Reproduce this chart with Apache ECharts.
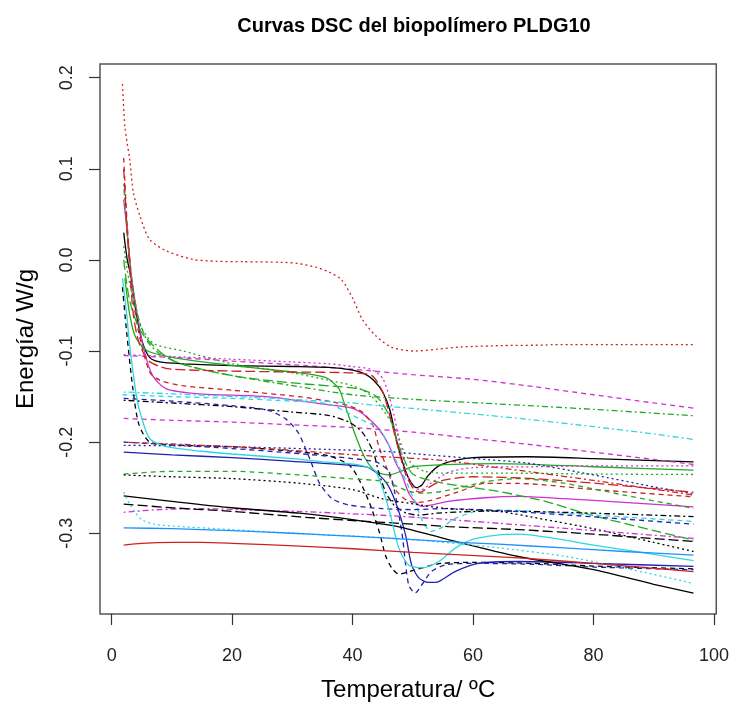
<!DOCTYPE html>
<html>
<head>
<meta charset="utf-8">
<script src="https://cdn.jsdelivr.net/npm/echarts@6/dist/echarts.min.js"></script>
<style>
html,body{margin:0;padding:0;background:#fff;}
#chart{width:732px;height:707px;}
</style>
</head>
<body>
<div id="chart"></div>
<script>
// ---------- DATA ----------
const chartTitle = "Curvas DSC del biopolímero PLDG10";
const xTitle = "Temperatura/ ºC";
const yTitle = "Energía/ W/g";
const xTicks = [0, 20, 40, 60, 80, 100];
const yTicks = [-0.3, -0.2, -0.1, 0.0, 0.1, 0.2];

const s01 = [[1.8,0.193],[2.2,0.146],[3.0,0.11],[3.6,0.074],[4.7,0.048],[6.3,0.0225],[9.1,0.0098],[13.4,0.0007],[17.4,-0.0015],[22,-0.002],[28.3,-0.0026],[31,-0.004],[33.9,-0.008],[36,-0.013],[38.2,-0.022],[40,-0.042],[41.6,-0.065],[43.8,-0.083],[46.5,-0.096],[50.4,-0.1],[54,-0.098],[58,-0.0956],[65,-0.094],[72,-0.0935],[73,-0.093],[85,-0.093],[96.6,-0.093]];
const s02 = [[2,-0.105],[10,-0.107],[20,-0.111],[30,-0.115],[40,-0.12],[50,-0.126],[60,-0.131],[70,-0.139],[80,-0.148],[90,-0.157],[96.6,-0.1626]];
const s03 = [[2,0.03],[2.6,0.0],[3.3,-0.021],[4,-0.055],[5,-0.088],[6.3,-0.107],[8,-0.112],[12,-0.114],[20,-0.116],[30,-0.117],[36,-0.118],[40,-0.121],[42,-0.125],[43.5,-0.132],[45,-0.145],[46.2,-0.165],[47.2,-0.195],[48.3,-0.222],[49.5,-0.242],[50.6,-0.25],[51.5,-0.247],[52.5,-0.237],[54.3,-0.226],[57,-0.22],[60,-0.217],[69,-0.216],[80,-0.218],[96.6,-0.2216]];
const s04 = [[2,0.066],[2.6,0.03],[3.3,-0.018],[4,-0.05],[5.2,-0.094],[6.8,-0.127],[9.1,-0.1415],[14.6,-0.147],[25.6,-0.15],[36,-0.159],[40,-0.163],[42.1,-0.171],[44.3,-0.185],[46,-0.203],[47.1,-0.2215],[48.2,-0.236],[49.5,-0.258],[51.5,-0.2705],[53,-0.269],[55.9,-0.265],[62,-0.261],[67.5,-0.2596],[75,-0.262],[85,-0.266],[96.6,-0.271]];
const s05 = [[2,0.112],[2.5,0.048],[3,0.0],[3.5,-0.04],[4.5,-0.08],[6.3,-0.123],[8,-0.132],[11.7,-0.138],[20,-0.143],[31,-0.15],[36,-0.155],[39.4,-0.16],[41.6,-0.167],[43.4,-0.182],[44.3,-0.2035],[45.5,-0.2253],[47.1,-0.252],[49.3,-0.265],[51,-0.266],[53,-0.264],[57.6,-0.2544],[62,-0.2453],[67.5,-0.2453],[80,-0.252],[96.6,-0.26]];
const s06 = [[2,0.083],[2.5,0.035],[3,0.0],[3.5,-0.03],[4.5,-0.065],[6,-0.09],[8,-0.103],[12,-0.115],[20,-0.127],[30,-0.138],[40,-0.148],[50,-0.153],[64,-0.158],[80,-0.164],[96.6,-0.171]];
const s07 = [[2,0.015],[2.6,-0.012],[3.3,-0.035],[4,-0.055],[5,-0.075],[7,-0.092],[11.9,-0.1],[20,-0.114],[30,-0.124],[36,-0.132],[40,-0.138],[42.7,-0.147],[44.5,-0.16],[47.1,-0.185],[48.5,-0.21],[50,-0.225],[52,-0.232],[55,-0.234],[65,-0.234],[80,-0.235],[96.6,-0.2355]];
const s08 = [[2.2,-0.02],[3,-0.06],[4,-0.085],[6,-0.1],[11.8,-0.109],[22.9,-0.118],[30,-0.123],[35.5,-0.129],[37.7,-0.141],[38.5,-0.155],[40.5,-0.193],[42.1,-0.218],[43.8,-0.232],[46,-0.236],[48,-0.232],[50,-0.227],[55.4,-0.2246],[64.2,-0.2235],[80,-0.227],[96.6,-0.2308]];
const s09 = [[2,0.0],[3,-0.045],[5,-0.08],[10,-0.11],[20,-0.127],[30,-0.135],[41,-0.1415],[44,-0.15],[46,-0.17],[48,-0.21],[50,-0.235],[55,-0.245],[64.2,-0.254],[72,-0.265],[79.6,-0.28],[90,-0.297],[96.6,-0.3074]];
const s10 = [[1.8,-0.148],[10,-0.15],[20,-0.152],[30,-0.155],[36,-0.158],[41,-0.174],[44.3,-0.185],[46,-0.203],[47.3,-0.2216],[48.7,-0.24],[50,-0.26],[51.5,-0.285],[53,-0.298],[55,-0.293],[57,-0.2836],[62,-0.2745],[67.5,-0.275],[80,-0.28],[96.6,-0.287]];
const s11 = [[2,-0.145],[10,-0.147],[20,-0.15],[30,-0.153],[40,-0.157],[44.3,-0.16],[50,-0.163],[60,-0.169],[69.2,-0.175],[80,-0.183],[90,-0.191],[96.6,-0.197]];
const s12 = [[2,-0.174],[10,-0.176],[20,-0.178],[30,-0.181],[40,-0.184],[50,-0.189],[60,-0.196],[70,-0.203],[80,-0.211],[90,-0.219],[96.6,-0.2245]];
const s13 = [[2,-0.154],[10,-0.157],[20,-0.161],[30,-0.167],[36,-0.1707],[39.4,-0.178],[41.6,-0.189],[43.4,-0.21],[44.3,-0.232],[45.5,-0.255],[47,-0.27],[49,-0.278],[51,-0.28],[54,-0.278],[60,-0.276],[64.2,-0.2756],[80,-0.278],[96.6,-0.2817]];
const s14 = [[1.8,-0.03],[2.5,-0.08],[3.5,-0.14],[4.5,-0.18],[6.3,-0.2],[10,-0.203],[20,-0.205],[30,-0.21],[36,-0.215],[39.4,-0.225],[41,-0.24],[43,-0.27],[44.5,-0.3],[45.5,-0.325],[46.5,-0.338],[47.7,-0.345],[49,-0.343],[50.4,-0.34],[54.8,-0.333],[60,-0.332],[70,-0.333],[80,-0.336],[96.6,-0.339]];
const s15 = [[2,-0.152],[10,-0.155],[20,-0.16],[26,-0.165],[29,-0.175],[31,-0.19],[33,-0.22],[34.5,-0.245],[36.6,-0.262],[39.4,-0.269],[45,-0.273],[50,-0.274],[55,-0.273],[64.2,-0.275],[80,-0.282],[96.6,-0.29]];
const s16 = [[2,-0.211],[10,-0.214],[20,-0.217],[30,-0.221],[41,-0.226],[43,-0.229],[45.5,-0.2435],[47.1,-0.265],[48.8,-0.302],[49.8,-0.3347],[51,-0.349],[52.6,-0.354],[54.3,-0.353],[57,-0.342],[60.9,-0.333],[67.5,-0.331],[80,-0.333],[96.6,-0.3364]];
const s17 = [[2,-0.2],[10,-0.203],[20,-0.207],[30,-0.212],[40,-0.218],[44,-0.222],[46,-0.232],[47,-0.255],[48.2,-0.3],[49.3,-0.3565],[50.4,-0.3656],[51.5,-0.3565],[53.1,-0.342],[55.4,-0.3347],[60,-0.333],[70,-0.334],[80,-0.337],[96.6,-0.34]];
const s18 = [[2,-0.2035],[10,-0.204],[20,-0.205],[36,-0.208],[45,-0.21],[52.6,-0.214],[60,-0.218],[69,-0.223],[80,-0.236],[90,-0.249],[96.6,-0.2565]];
const s19 = [[2,-0.2],[10,-0.202],[20,-0.205],[30,-0.209],[36,-0.212],[45,-0.216],[55,-0.22],[64.2,-0.228],[70,-0.233],[80,-0.242],[96.6,-0.258]];
const s20 = [[2,-0.235],[10,-0.232],[20,-0.232],[31,-0.236],[39.4,-0.24],[45.5,-0.2435],[49.3,-0.254],[52,-0.256],[56,-0.2527],[62,-0.2435],[67.5,-0.24],[75,-0.245],[85,-0.258],[96.6,-0.2727]];
const s21 = [[2,-0.236],[10,-0.238],[20,-0.24],[31,-0.245],[40,-0.252],[44.8,-0.262],[49.3,-0.267],[55.9,-0.273],[64.2,-0.276],[72,-0.285],[80,-0.295],[90,-0.31],[96.6,-0.32]];
const s22 = [[2,-0.277],[8,-0.274],[15,-0.273],[25,-0.275],[31,-0.276],[44.3,-0.28],[53,-0.2836],[64.2,-0.289],[80,-0.297],[96.6,-0.3055]];
const s23 = [[2,-0.268],[10,-0.272],[20,-0.276],[31.2,-0.282],[40,-0.286],[50,-0.29],[55.9,-0.2927],[67.5,-0.296],[80,-0.301],[96.6,-0.309]];
const s24 = [[2,-0.259],[10,-0.265],[20,-0.272],[31.2,-0.278],[40,-0.285],[47.7,-0.293],[55.9,-0.307],[67.5,-0.3255],[80,-0.34],[90,-0.356],[96.6,-0.3657]];
const s25 = [[1.8,-0.02],[2.5,-0.06],[3,-0.094],[4.1,-0.149],[4.7,-0.167],[6.3,-0.196],[9.1,-0.205],[15,-0.21],[20,-0.213],[30,-0.218],[36,-0.222],[41,-0.225],[43.8,-0.232],[46,-0.273],[47.7,-0.3166],[49.3,-0.3347],[51.5,-0.338],[54.3,-0.331],[57,-0.3166],[59.8,-0.307],[64,-0.302],[67.5,-0.301],[80,-0.313],[96.6,-0.33]];
const s26 = [[2,-0.255],[3,-0.268],[4,-0.278],[5,-0.285],[7,-0.29],[10,-0.292],[20,-0.296],[30,-0.3],[40,-0.303],[50,-0.307],[64.2,-0.316],[75,-0.325],[85,-0.338],[96.6,-0.355]];
const s27 = [[2,-0.294],[10,-0.295],[20,-0.297],[30,-0.3],[36,-0.302],[45,-0.305],[55,-0.309],[64.2,-0.312],[75,-0.316],[85,-0.32],[96.6,-0.324]];
const s28 = [[2,-0.313],[5,-0.311],[10,-0.31],[15,-0.31],[20,-0.311],[31.2,-0.314],[40,-0.317],[50,-0.321],[67.5,-0.327],[80,-0.333],[96.6,-0.342]];
const s29 = [[2,0.1],[2.5,0.04],[3,-0.01],[3.6,-0.06],[4.5,-0.09],[6,-0.11],[8,-0.117],[10,-0.12],[20,-0.122],[30,-0.123],[40,-0.124],[43.2,-0.127],[45,-0.145],[46.3,-0.174],[47.5,-0.205],[48.8,-0.235],[50.2,-0.252],[51.3,-0.255],[52.5,-0.25],[55,-0.242],[60,-0.238],[70,-0.24],[80,-0.245],[96.6,-0.255]];
const s30 = [[2,-0.104],[10,-0.106],[20,-0.109],[30,-0.112],[36,-0.114],[40,-0.117],[43,-0.12],[45,-0.13],[46.5,-0.16],[47.8,-0.2],[49,-0.235],[50.3,-0.25],[51.5,-0.252],[53,-0.245],[56,-0.233],[60,-0.228],[70,-0.227],[80,-0.226],[96.6,-0.226]];

// ---------- STYLES ----------
const C = {black:'#000000', red:'#cc2222', green:'#22aa22', navy:'#2020b0', blue:'#1e90ff', cyan:'#2fd6e0', magenta:'#d030d0'};
const D = {solid:'solid', dashed:[5,4], dotted:[2,3], dotdash:[2,3,6,3], longdash:[10,4]};
const seriesDefs = [
  [s01,'red','dotted'],[s02,'magenta','dashed'],[s03,'black','solid'],[s04,'magenta','solid'],
  [s05,'red','dashed'],[s06,'green','dotdash'],[s07,'green','dotted'],[s08,'green','solid'],
  [s09,'green','longdash'],[s10,'cyan','dashed'],[s11,'cyan','dotdash'],[s12,'magenta','dashed'],
  [s13,'black','dotdash'],[s14,'black','dashed'],[s15,'navy','dashed'],[s16,'navy','solid'],
  [s17,'navy','dashed'],[s18,'navy','dotted'],[s19,'red','dotdash'],[s20,'green','dashed'],
  [s21,'black','dotted'],[s22,'magenta','dotdash'],[s23,'black','longdash'],[s24,'black','solid'],
  [s25,'cyan','solid'],[s26,'cyan','dotted'],[s27,'blue','solid'],[s28,'red','solid'],
  [s29,'red','longdash'],[s30,'magenta','dotted']
];

const chart = echarts.init(document.getElementById('chart'), null, {renderer:'canvas'});
const font = "'Liberation Sans', Arial, sans-serif";
chart.setOption({
  animation: false,
  backgroundColor: '#ffffff',
  title: {
    text: chartTitle, left: 409, textAlign: 'center', top: 11,
    textStyle: {fontFamily: font, fontWeight: 'bold', fontSize: 20, color: '#000'}
  },
  grid: {left: 100, top: 64, width: 619, height: 552, show: true, borderColor: '#555', borderWidth: 1.5, backgroundColor: 'transparent'},
  xAxis: {
    type: 'value', min: -1.934, max: 100.38,
    name: xTitle, nameLocation: 'middle', nameGap: 64,
    nameTextStyle: {fontFamily: font, fontSize: 24, color: '#000'},
    axisLine: {show: false, onZero: false},
    axisTick: {show: true, inside: false, length: 11, customValues: xTicks, lineStyle: {color: '#333', width: 1.2}},
    axisLabel: {customValues: xTicks, margin: 33, fontFamily: font, fontSize: 18, color: '#222', formatter: v => String(v)},
    splitLine: {show: false}
  },
  yAxis: {
    type: 'value', min: -0.3886, max: 0.215,
    name: yTitle, nameLocation: 'middle', nameGap: 62, nameRotate: 90,
    nameTextStyle: {fontFamily: font, fontSize: 24, color: '#000'},
    axisLine: {show: false, onZero: false},
    axisTick: {show: true, inside: false, length: 11, customValues: yTicks, lineStyle: {color: '#333', width: 1.2}},
    axisLabel: {customValues: yTicks, rotate: 90, margin: 24, fontFamily: font, fontSize: 18, color: '#222', formatter: v => v.toFixed(1)},
    splitLine: {show: false}
  },
  series: seriesDefs.map((d, i) => ({
    type: 'line', name: 'S' + (i + 1), data: d[0], showSymbol: false, smooth: 0.25,
    clip: true,
    lineStyle: {color: C[d[1]], type: D[d[2]], width: 1.3},
    emphasis: {disabled: true}
  }))
});
</script>
</body>
</html>
